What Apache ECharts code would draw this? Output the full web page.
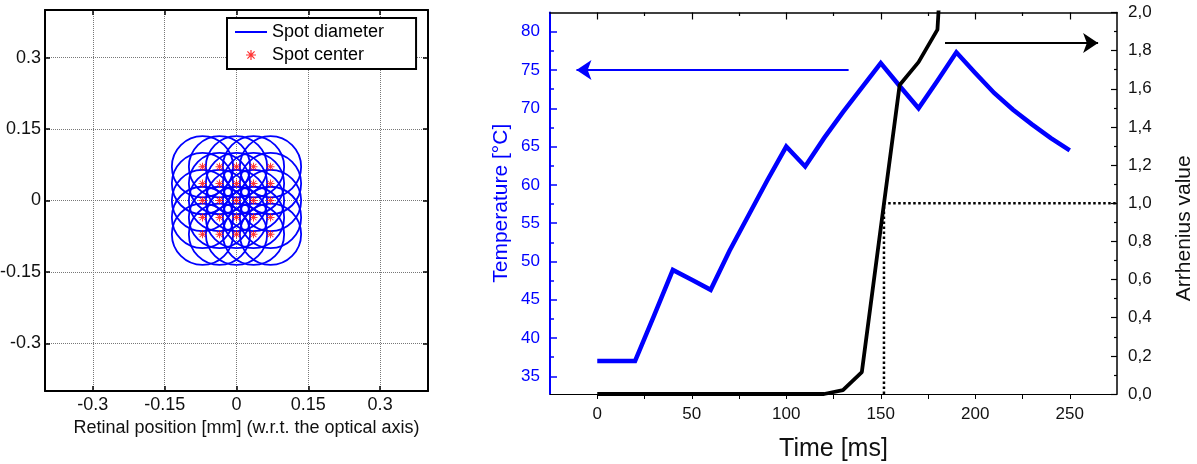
<!DOCTYPE html>
<html>
<head>
<meta charset="utf-8">
<script src="https://cdn.jsdelivr.net/npm/echarts@6/dist/echarts.min.js"></script>
<style>
  body { margin: 0; background: #fff; }
  #chart { width: 1197px; height: 464px; }
</style>
</head>
<body>
<div id="chart"></div>
<script>
// left panel: spot pattern on the retina (mm)
var spotOffsets = [-0.071, -0.0355, 0, 0.0355, 0.071];
var spotRadius = 0.064;
var posTicks = [-0.3, -0.15, 0, 0.15, 0.3];

// right panel: temperature and Arrhenius value over time
var timeMs = [0, 10, 20, 30, 40, 50, 60, 70, 80, 90, 100, 110, 120, 130, 140, 150, 160, 170, 180, 190, 200, 210, 220, 230, 240, 250];
var temperature = [37.0, 37.0, 37.0, 42.9, 48.9, 47.6, 46.3, 51.4, 56.0, 60.6, 65.0, 62.4, 66.1, 69.5, 72.7, 75.9, 72.9, 70.0, 73.6, 77.3, 74.6, 72.0, 69.8, 67.9, 66.1, 64.5];
var arrhTime = [0, 10, 20, 30, 40, 50, 60, 70, 80, 90, 100, 110, 120, 130, 140, 150, 160, 170, 180, 190];
var arrhenius = [0, 0, 0, 0, 0, 0, 0, 0, 0, 0, 0, 0, 0, 0.02, 0.115, 0.87, 1.62, 1.74, 1.91, 3.6];
var timeLabels = [0, 50, 100, 150, 200, 250];
var timeMinor = [25, 75, 125, 175, 225];
var tempLabels = [35, 40, 45, 50, 55, 60, 65, 70, 75, 80];
var tempMinor = [37.5, 42.5, 47.5, 52.5, 57.5, 62.5, 67.5, 72.5, 77.5];
var thresholdX = [151.7, 151.7, 275];
var thresholdY = [0, 1, 1];
var tempArrow = [[133, 75], [-11, 75]];
var arrhArrow = [[184, 1.84], [265, 1.84]];

var BLUE = '#0000ff';
var FONT = "'Liberation Sans', Arial, sans-serif";

var spotCenters = [];
spotOffsets.forEach(function (y) {
    spotOffsets.forEach(function (x) {
        spotCenters.push([x, y]);
    });
});

var zip = function (xs, ys) {
    return xs.map(function (x, i) { return [x, ys[i]]; });
};

// small red asterisk
var starPath = 'path://M4.4,0H5.6V3.6L8.2,1L9,1.8L6.4,4.4H10V5.6H6.4L9,8.2L8.2,9L5.6,6.4V10H4.4V6.4L1.8,9L1,8.2L3.6,5.6H0V4.4H3.6L1,1.8L1.8,1L4.4,3.6Z';

var dom = document.getElementById('chart');
var myChart = echarts.init(dom, null, { renderer: 'canvas' });

var leftFrame = { onZero: false, lineStyle: { color: '#000', width: 2 } };
var leftTick = { customValues: posTicks, inside: true, length: 5, lineStyle: { color: '#000', width: 1.5 } };
var leftGrid = { show: true, lineStyle: { type: 'dotted', color: '#777', width: 1 } };

var option = {
    animation: false,
    textStyle: { fontFamily: FONT },
    grid: [
        { left: 45, top: 10, width: 383, height: 381, outerBoundsMode: 'none' },
        { left: 550, top: 12.5, width: 567, height: 381.5, outerBoundsMode: 'none' }
    ],
    legend: {
        data: [
            { name: 'Spot diameter', itemStyle: { color: 'transparent', borderWidth: 0 } },
            { name: 'Spot center' }
        ],
        orient: 'vertical',
        left: 227, top: 18,
        itemWidth: 32, itemHeight: 10, itemGap: 5,
        padding: [5, 32, 5, 7],
        borderColor: '#000', borderWidth: 2,
        backgroundColor: '#fff',
        textStyle: { fontSize: 18, color: '#000', fontFamily: FONT },
        selectedMode: false
    },
    xAxis: [
        {
            gridIndex: 0, type: 'value', position: 'bottom', min: -0.4, max: 0.4,
            axisLine: leftFrame, axisTick: leftTick,
            axisLabel: { customValues: posTicks, fontSize: 18, color: '#111', margin: 5 },
            splitLine: leftGrid,
            name: 'Retinal position [mm] (w.r.t. the optical axis)',
            nameLocation: 'middle', nameGap: 25,
            nameTextStyle: { fontSize: 18, color: '#111', padding: [0, 0, 0, 20] }
        },
        {
            gridIndex: 0, type: 'value', position: 'top', min: -0.4, max: 0.4,
            axisLine: leftFrame, axisTick: leftTick,
            axisLabel: { show: false }, splitLine: { show: false }
        },
        {
            gridIndex: 1, type: 'value', position: 'bottom', min: -25, max: 275,
            axisLine: { onZero: false, lineStyle: { color: '#000', width: 1 } },
            axisTick: { customValues: timeLabels.concat(timeMinor), inside: false, length: 5, lineStyle: { color: '#000', width: 1 } },
            axisLabel: { customValues: timeLabels, fontSize: 17, color: '#111', margin: 12 },
            splitLine: { show: false },
            name: 'Time [ms]', nameLocation: 'middle', nameGap: 43,
            nameTextStyle: { fontSize: 25, color: '#111' }
        },
        {
            gridIndex: 1, type: 'value', position: 'top', min: -25, max: 275,
            axisLine: { onZero: false, lineStyle: { color: '#000', width: 1.5 } },
            axisTick: { customValues: timeLabels, inside: true, length: 7, lineStyle: { color: '#000', width: 1.2 } },
            axisLabel: { show: false }, splitLine: { show: false }
        },
        {
            gridIndex: 1, type: 'value', position: 'top', min: -25, max: 275,
            axisLine: { show: false, onZero: false },
            axisTick: { customValues: timeMinor, inside: true, length: 3.5, lineStyle: { color: '#000', width: 1.2 } },
            axisLabel: { show: false }, splitLine: { show: false }
        }
    ],
    yAxis: [
        {
            gridIndex: 0, type: 'value', position: 'left', min: -0.4, max: 0.4,
            axisLine: leftFrame, axisTick: leftTick,
            axisLabel: { customValues: posTicks, fontSize: 18, color: '#111', margin: 4 },
            splitLine: leftGrid
        },
        {
            gridIndex: 0, type: 'value', position: 'right', min: -0.4, max: 0.4,
            axisLine: leftFrame, axisTick: leftTick,
            axisLabel: { show: false }, splitLine: { show: false }
        },
        {
            gridIndex: 1, type: 'value', position: 'left', min: 32.7, max: 82.5,
            axisLine: { onZero: false, lineStyle: { color: BLUE, width: 2 } },
            axisTick: { customValues: tempLabels, inside: true, length: 7, lineStyle: { color: BLUE, width: 1.5 } },
            axisLabel: { customValues: tempLabels, fontSize: 17, color: BLUE, margin: 10 },
            splitLine: { show: false },
            name: 'Temperature [°C]', nameLocation: 'middle', nameGap: 38,
            nameTextStyle: { fontSize: 21, color: BLUE }
        },
        {
            gridIndex: 1, type: 'value', position: 'left', min: 32.7, max: 82.5,
            axisLine: { show: false, onZero: false },
            axisTick: { customValues: tempMinor, inside: true, length: 4, lineStyle: { color: BLUE, width: 1.5 } },
            axisLabel: { show: false }, splitLine: { show: false }
        },
        {
            gridIndex: 1, type: 'value', position: 'right', min: 0, max: 2, interval: 0.2,
            axisLine: { onZero: false, lineStyle: { color: '#000', width: 1.5 } },
            axisTick: { inside: true, length: 6, lineStyle: { color: '#000', width: 1.2 } },
            minorTick: { show: true, splitNumber: 2, length: 3, lineStyle: { color: '#000', width: 1.2 } },
            axisLabel: {
                fontSize: 17, color: '#111', margin: 11,
                formatter: function (v) { return v.toFixed(1).replace('.', ','); }
            },
            splitLine: { show: false }, minorSplitLine: { show: false },
            name: 'Arrhenius value', nameLocation: 'middle', nameGap: 57,
            nameTextStyle: { fontSize: 21, color: '#111', padding: [0, 50, 0, 0] }
        }
    ],
    series: [
        {
            // legend entry only (line icon)
            name: 'Spot diameter', type: 'line', xAxisIndex: 0, yAxisIndex: 0,
            data: [], symbol: 'none', symbolSize: 0, showSymbol: false, color: BLUE,
            lineStyle: { color: BLUE, width: 1.5 }
        },
        {
            name: 'spots', type: 'custom', xAxisIndex: 0, yAxisIndex: 0,
            data: spotCenters,
            renderItem: function (params, api) {
                var c = api.coord([api.value(0), api.value(1)]);
                var r = api.size([spotRadius, 0])[0];
                return {
                    type: 'circle',
                    shape: { cx: c[0], cy: c[1], r: r },
                    style: { fill: 'none', stroke: BLUE, lineWidth: 1.8 }
                };
            },
            silent: true
        },
        {
            name: 'Spot center', type: 'scatter', xAxisIndex: 0, yAxisIndex: 0,
            data: spotCenters, symbol: starPath, symbolSize: 8,
            itemStyle: { color: '#ff0000' }, silent: true
        },
        {
            name: 'Temperature', type: 'line', xAxisIndex: 2, yAxisIndex: 2,
            data: zip(timeMs, temperature), symbol: 'none',
            lineStyle: { color: BLUE, width: 4.5, join: 'miter' },
            markLine: {
                silent: true, symbol: ['none', 'arrow'], symbolSize: 15,
                label: { show: false },
                lineStyle: { color: BLUE, width: 2, type: 'solid' },
                data: [[{ coord: tempArrow[0] }, { coord: tempArrow[1] }]]
            }
        },
        {
            name: 'threshold', type: 'line', xAxisIndex: 2, yAxisIndex: 4,
            data: zip(thresholdX, thresholdY), symbol: 'none',
            lineStyle: { color: '#000', width: 2.5, type: [2.5, 2.5] }
        },
        {
            name: 'Arrhenius', type: 'line', xAxisIndex: 2, yAxisIndex: 4,
            data: zip(arrhTime, arrhenius), symbol: 'none',
            lineStyle: { color: '#000', width: 3.8 },
            markLine: {
                silent: true, symbol: ['none', 'arrow'], symbolSize: 15,
                label: { show: false },
                lineStyle: { color: '#000', width: 2, type: 'solid' },
                data: [[{ coord: arrhArrow[0] }, { coord: arrhArrow[1] }]]
            }
        }
    ]
};

if (option && typeof option === 'object') {
    myChart.setOption(option);
}

window.addEventListener('resize', myChart.resize);
</script>
</body>
</html>
